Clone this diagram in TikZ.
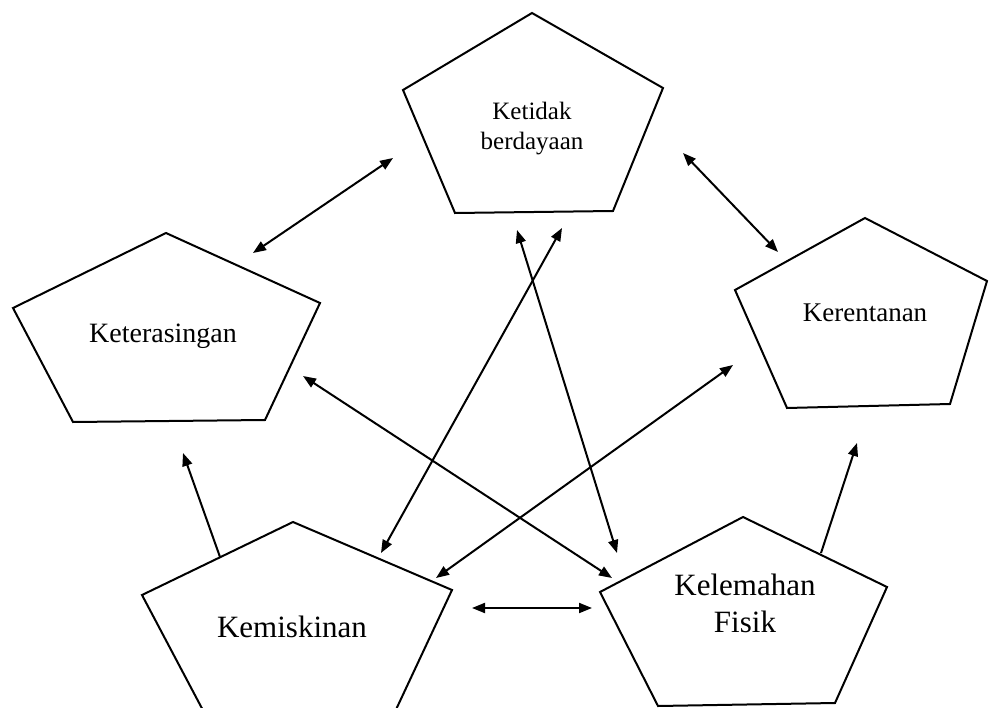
\documentclass[tikz,border=0pt]{standalone}
\usepackage{fontspec}
\setmainfont{Liberation Serif}
\usetikzlibrary{arrows.meta}
\begin{document}
\begin{tikzpicture}[x=1pt,y=-1pt,
  pent/.style={draw, line width=2pt, line join=miter},
  tip/.tip={Triangle[length=13pt,width=10pt]},
  conn/.style={line width=2pt, -tip},
  biconn/.style={line width=2pt, tip-tip},
  lbl/.style={inner sep=0pt, align=center}]
\useasboundingbox (0,0) rectangle (990,708);
\clip (0,0) rectangle (990,708);

% pentagons
\draw[pent] (532,13) -- (663,88) -- (613,211) -- (455,213) -- (403,90) -- cycle;
\draw[pent] (166,233) -- (320,303) -- (265,420) -- (73,422) -- (13,308) -- cycle;
\draw[pent] (865,218) -- (987,281) -- (950,404) -- (787,408) -- (735,290) -- cycle;
\draw[pent] (293,522) -- (452,590) -- (393,716) -- (206,716) -- (142,595) -- cycle;
\draw[pent] (743,517) -- (887,587) -- (835,703) -- (658,706) -- (600,592) -- cycle;

% labels
\node[lbl, font=\fontsize{25}{30}\selectfont] (ketidak) at (532,129) {Ketidak\\berdayaan};
\node[lbl, anchor=base, font=\fontsize{28}{33}\selectfont] (keter) at (163,342) {Keterasingan};
\node[lbl, anchor=base, font=\fontsize{27}{32}\selectfont] (keren) at (865,322) {Kerentanan};
\node[lbl, anchor=base, font=\fontsize{31}{36}\selectfont] (kemis) at (292,637) {Kemiskinan};
\node[lbl, font=\fontsize{31}{37}\selectfont] (kelem) at (745,603) {Kelemahan\\Fisik};

% connector end points
\coordinate (a1s) at (393,158); \coordinate (a1e) at (253,253);
\coordinate (a2s) at (683,153); \coordinate (a2e) at (778,252);
\coordinate (a3s) at (517,230); \coordinate (a3e) at (617,553);
\coordinate (a4s) at (562,228); \coordinate (a4e) at (381,553);
\coordinate (a5s) at (303,376); \coordinate (a5e) at (612,578);
\coordinate (a6s) at (733,365); \coordinate (a6e) at (436,578);
\coordinate (a7s) at (220,557); \coordinate (a7e) at (183,453);
\coordinate (a8s) at (821,553); \coordinate (a8e) at (857,443);
\coordinate (a9s) at (472,608); \coordinate (a9e) at (592,608);

% connectors
\draw[biconn] (a1s) -- (a1e);
\draw[biconn] (a2s) -- (a2e);
\draw[biconn] (a3s) -- (a3e);
\draw[biconn] (a4s) -- (a4e);
\draw[biconn] (a5s) -- (a5e);
\draw[biconn] (a6s) -- (a6e);
\draw[conn] (a7s) -- (a7e);
\draw[conn] (a8s) -- (a8e);
\draw[biconn] (a9s) -- (a9e);
\end{tikzpicture}
\end{document}
